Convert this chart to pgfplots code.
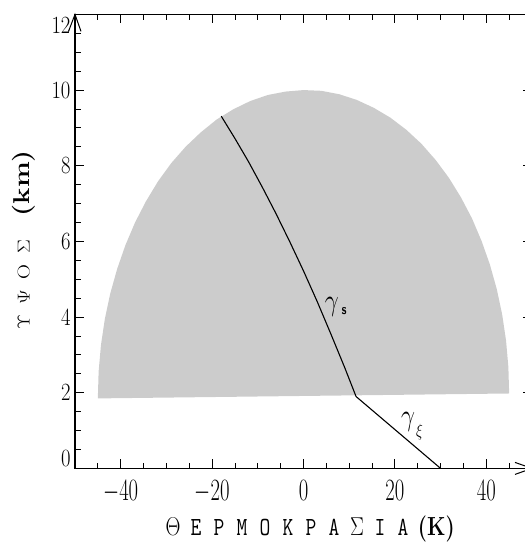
\documentclass[border=0pt]{standalone}
\usepackage{graphicx}
\usepackage{pgfplots}
\pgfplotsset{compat=1.18}
\newcommand\ty[1]{\scalebox{1}[1.2]{$#1$}}
\newcommand\tx[1]{\scalebox{1}[1.5]{$#1$}}
\newcommand\lt[1]{\makebox[23bp]{#1}}
\newcommand\ly[1]{\makebox[21bp]{#1}}
\begin{document}
\begin{tikzpicture}
\path[use as bounding box] (-75bp,-74.6bp) rectangle (450bp,468.4bp);
\begin{axis}[
  at={(0,0)}, anchor=south west,
  scale only axis, width=457bp, height=454bp,
  xmin=-50, xmax=50, ymin=0, ymax=12,
  clip=false,
  xtick={-40,-20,0,20,40},
  xticklabels={\tx{-40},\tx{-20},\tx{0},\tx{20},\tx{40}},
  ytick={0,2,4,6,8,10,12},
  yticklabels={{\raisebox{10bp}[\height][\depth]{\ty{0}}},\ty{2},\ty{4},\ty{6},\ty{8},\ty{10},{\raisebox{-11.5bp}[\height][\depth]{\ty{12}}}},
  minor xtick={-45,-35,-30,-25,-15,-10,-5,5,10,15,25,30,35,45},
  minor ytick={0.5,1,1.5,2.5,3,3.5,4.5,5,5.5,6.5,7,7.5,8.5,9,9.5,10.5,11,11.5},
  tick align=inside,
  major tick length=9bp, minor tick length=5.5bp,
  tick style={black, line width=0.9bp},
  axis line style={line width=1.1bp},
  xticklabel style={font=\fontsize{21}{22}\selectfont, yshift=-9bp},
  yticklabel style={font=\fontsize{21.5}{22}\selectfont, xshift=-1bp},
]
\addplot[fill=black!20, draw=none] coordinates {
(45,1.98) (44.83,2.68) (44.32,3.38) (43.47,4.07) (42.29,4.74) (40.78,5.39)
(38.97,6.01) (36.86,6.61) (34.47,7.16) (31.82,7.68) (28.93,8.15) (25.81,8.58)
(22.5,8.95) (19.02,9.27) (15.39,9.53) (11.65,9.74) (7.81,9.89) (3.92,9.98)
(0,10.0) (-3.92,9.96) (-7.81,9.87) (-11.65,9.71) (-15.39,9.49) (-19.02,9.22)
(-22.5,8.88) (-25.81,8.50) (-28.93,8.07) (-31.82,7.59) (-34.47,7.06) (-36.86,6.50)
(-38.97,5.90) (-40.78,5.27) (-42.29,4.62) (-43.47,3.95) (-44.32,3.26) (-44.83,2.56)
(-45,1.85)
};
\addplot[black, line width=1.1bp] coordinates {
(-18,9.31) (-15,8.72) (-12,8.10) (-9,7.43) (-6,6.73) (-3,5.99) (0,5.22)
(3,4.41) (6,3.55) (9,2.67) (11.5,1.9) (30,0)
};
\node at (axis cs:6.2,4.27) {\fontsize{31}{31}\selectfont\scalebox{1}[1.23]{$\gamma$}};
\node at (axis cs:8.9,4.15) {\fontsize{12}{12}\selectfont\scalebox{1}[1.23]{\textsf{\textbf{s}}}};
\node at (axis cs:22.9,1.23) {\fontsize{31}{31}\selectfont\scalebox{1}[1.23]{$\gamma$}};
\node at (axis cs:25.4,0.95) {\fontsize{14}{14}\selectfont\scalebox{1}[1.23]{$\xi$}};
\node at (axis cs:1.0,-1.6) {\fontsize{21}{22}\selectfont\scalebox{1}[1.25]{\ttfamily\lt{$\Theta$}\lt{E}\lt{P}\lt{M}\lt{O}\lt{K}\lt{P}\lt{A}\lt{$\Sigma$}\lt{I}\lt{A}\,\textrm{\textbf{(K)}}}};
\node[rotate=90] at (axis cs:-61.2,5.97) {\scalebox{1.2}[1]{\fontsize{19}{20}\selectfont\ly{$\Upsilon$}\ly{$\Psi$}\ly{$\mathrm{O}$}\ly{$\Sigma$}\hspace{15bp}\fontsize{23}{24}\selectfont\textbf{(km)}}};
\draw[line width=1bp] ([xshift=-6.5bp,yshift=-17bp]rel axis cs:0,1) -- (rel axis cs:0,1) -- ([xshift=6bp,yshift=-17bp]rel axis cs:0,1);
\draw[line width=1bp] ([xshift=-17bp,yshift=6bp]rel axis cs:1,0) -- (rel axis cs:1,0) -- ([xshift=-17bp,yshift=-6bp]rel axis cs:1,0);
\end{axis}
\end{tikzpicture}
\end{document}
